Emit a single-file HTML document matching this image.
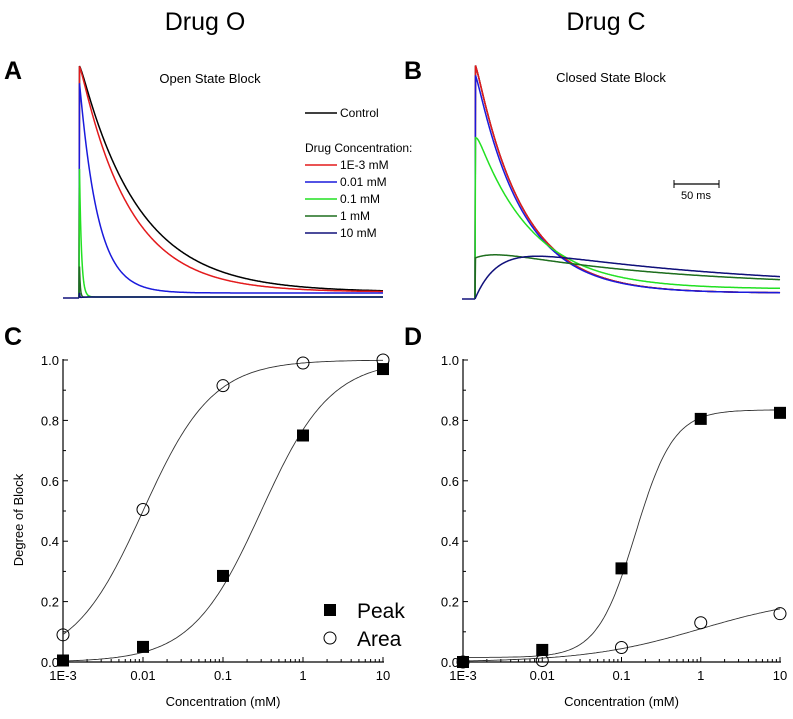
<!DOCTYPE html>
<html><head><meta charset="utf-8"><style>
body{margin:0;background:#fff}
svg{display:block;font-family:"Liberation Sans",Arial,sans-serif}
</style></head><body>
<svg id="fig" width="793" height="719" viewBox="0 0 793 719">
<text x="205" y="30" font-size="25" text-anchor="middle">Drug O</text>
<text x="606" y="30" font-size="25" text-anchor="middle">Drug C</text>
<text x="4" y="79" font-size="25" font-weight="bold">A</text>
<text x="404" y="79" font-size="25" font-weight="bold">B</text>
<text x="4" y="345" font-size="25" font-weight="bold">C</text>
<text x="404" y="345" font-size="25" font-weight="bold">D</text>
<text x="210" y="83" font-size="13" text-anchor="middle">Open State Block</text>
<text x="611" y="82" font-size="13" text-anchor="middle">Closed State Block</text>
<g id="legendA"></g>
<g>
<line x1="674" y1="184" x2="719" y2="184" stroke="#000" stroke-width="1.3"/>
<line x1="674" y1="180" x2="674" y2="188" stroke="#000"/>
<line x1="719" y1="180" x2="719" y2="188" stroke="#000"/>
<text x="696" y="199" font-size="11" text-anchor="middle">50 ms</text>
</g>
<g id="tracesA"></g>
<g id="tracesB"></g>
<g id="plotC"></g>
<g id="plotD"></g>
<text transform="translate(23,520) rotate(-90)" font-size="13" text-anchor="middle">Degree of Block</text>
<g>
<rect x="324" y="604" width="12" height="12" fill="#000"/>
<text x="357" y="618" font-size="21">Peak</text>
<circle cx="330" cy="638" r="6" fill="#fff" stroke="#000"/>
<text x="357" y="646" font-size="21">Area</text>
</g>
</svg>
<script>
// ---- dose-response data ----
const concentrations = [0.001, 0.01, 0.1, 1, 10];
const xTickLabels = ["1E-3", "0.01", "0.1", "1", "10"];
const yTickValues = [0, 0.2, 0.4, 0.6, 0.8, 1.0];
const yTickLabels = ["0.0", "0.2", "0.4", "0.6", "0.8", "1.0"];
const peakO = [0.005, 0.05, 0.285, 0.75, 0.97];
const areaO = [0.09, 0.505, 0.915, 0.99, 1.0];
const peakC = [0.0, 0.04, 0.31, 0.805, 0.825];
const areaC = [0.0, 0.005, 0.048, 0.13, 0.16];
// Hill fit params: [base, max, IC50, n]
const fitPeakO = [0, 1, 0.3, 1];
const fitAreaO = [0, 1, 0.01, 1];
const fitPeakC = [0.015, 0.82, 0.15, 1.8];
const fitAreaC = [0, 0.22, 1, 0.6];
// ---- trace params ----
const traceNames = ["Control", "1E-3 mM", "0.01 mM", "0.1 mM", "1 mM", "10 mM"];
const traceColors = ["#000000", "#e31a1c", "#1a1adc", "#22e022", "#1e6e1e", "#10107a"];
const openAmp = [233, 233, 220, 166, 58, 20];
const openTau = [65, 55, 20, 2.2, 0.9, 0.4];
const openTail = [6, 6, 5, 1, 1, 1];
const closedAmp = [235, 235, 225, 161, 0, 0];
const closedTau = [52, 52, 52, 62, 1, 1];
const closedSlowAmp = [0, 0, 0, 0, 40, 48];
const closedSlowTau = [1, 1, 1, 1, 200, 250];
const closedRiseAmp = [0, 0, 0, 0, 11, 58];
const closedRiseTau = [1, 1, 1, 1, 20, 25];
const closedTail = [6, 6, 6, 10, 12, 10];

const NS = "http://www.w3.org/2000/svg";
function mk(tag, attrs, parent) {
  const e = document.createElementNS(NS, tag);
  for (const k in attrs) e.setAttribute(k, attrs[k]);
  parent.appendChild(e);
  return e;
}

// legend A
const lg = document.getElementById("legendA");
const legYs = [113, 165, 182, 199, 216, 233];
traceNames.forEach((n, i) => {
  const l = mk("line", {x1: 305, x2: 337, y1: legYs[i], y2: legYs[i], stroke: traceColors[i], "stroke-width": 1.5}, lg);
  
  
  const t = mk("text", {x: 340, y: legYs[i] + 4, "font-size": 12}, lg);
  t.textContent = n;
  
  
});
const dc = mk("text", {x: 305, y: 152, "font-size": 12}, lg);
dc.textContent = "Drug Concentration:";



const msPx = 45 / 50;
function tracePath(g, i, xStart, xEnd, base, fn) {
  let d = `M${xStart},${base}`;
  for (let x = xStart; x <= xEnd; x += 0.5) {
    const t = (x - xStart) / msPx;
    d += ` L${x.toFixed(1)},${(base - fn(t)).toFixed(1)}`;
  }
  const p = mk("path", {d: d, fill: "none", stroke: traceColors[i], "stroke-width": 1.5}, g);
  
  
}
// Panel A
const gA = document.getElementById("tracesA");
mk("line", {x1: 63, x2: 79, y1: 298, y2: 298, stroke: "#10107a", "stroke-width": 1.5}, gA);
for (let i = 0; i < traceNames.length; i++) {
  tracePath(gA, i, 79, 383, 298, t => t <= 0 ? 0 :
    openAmp[i] * Math.exp(-t / openTau[i]) + openTail[i] * (1 - Math.exp(-t / 3)));
}
// Panel B
const gB = document.getElementById("tracesB");
mk("line", {x1: 462, x2: 475, y1: 299, y2: 299, stroke: "#10107a", "stroke-width": 1.5}, gB);
for (let i = 0; i < traceNames.length; i++) {
  tracePath(gB, i, 475, 780, 299, t => t <= 0 ? 0 :
    closedTail[i] * (closedRiseAmp[i] ? 1 : (1 - Math.exp(-t / 3))) +
    closedAmp[i] * Math.exp(-t / closedTau[i]) +
    closedSlowAmp[i] * Math.exp(-t / closedSlowTau[i]) -
    closedRiseAmp[i] * Math.exp(-t / closedRiseTau[i]));
}

// dose-response plots
function hill(p, c) { return p[0] + p[1] / (1 + Math.pow(p[2] / c, p[3])); }
function drawDR(g, x0, x1, y0, y1, peak, area, fp, fa) {
  const xs = c => x0 + (Math.log10(c) + 3) / 4 * (x1 - x0);
  const ys = v => y0 - v * (y0 - y1);
  mk("line", {x1: x0, x2: x0, y1: y0, y2: y1 - 1, stroke: "#000", "stroke-width": 1.2}, g);
  mk("line", {x1: x0, x2: x1 + 1, y1: y0, y2: y0, stroke: "#000", "stroke-width": 1.2}, g);
  yTickValues.forEach((v, i) => {
    mk("line", {x1: x0, x2: x0 + 5, y1: ys(v), y2: ys(v), stroke: "#000"}, g);
    if (i < yTickValues.length - 1) mk("line", {x1: x0, x2: x0 + 3, y1: ys(v + 0.1), y2: ys(v + 0.1), stroke: "#000"}, g);
    const t = mk("text", {x: x0 - 4, y: ys(v) + 5, "font-size": 13, "text-anchor": "end"}, g);
    t.textContent = yTickLabels[i];
    
    
  });
  concentrations.forEach((c, i) => {
    mk("line", {x1: xs(c), x2: xs(c), y1: y0, y2: y0 - 5, stroke: "#000"}, g);
    if (i < concentrations.length - 1) for (let k = 2; k < 10; k++)
      mk("line", {x1: xs(c * k), x2: xs(c * k), y1: y0, y2: y0 - 3, stroke: "#000"}, g);
    const t = mk("text", {x: xs(c), y: y0 + 18, "font-size": 13, "text-anchor": "middle"}, g);
    t.textContent = xTickLabels[i];
    
    
  });
  const xt = mk("text", {x: (x0 + x1) / 2, y: 706, "font-size": 13, "text-anchor": "middle"}, g);
  xt.textContent = "Concentration (mM)";
  
  
  [fp, fa].forEach(p => {
    let d = "";
    for (let e = -3; e <= 1.0001; e += 0.02) {
      const c = Math.pow(10, e);
      d += (d ? " L" : "M") + xs(c).toFixed(1) + "," + ys(hill(p, c)).toFixed(1);
    }
    const f = mk("path", {d: d, fill: "none", stroke: "#333", "stroke-width": 0.9}, g);
    
    
  });
  concentrations.forEach((c, i) => {
    const s = mk("rect", {x: xs(c) - 6, y: ys(peak[i]) - 6, width: 12, height: 12, fill: "#000"}, g);
    
    
    const o = mk("circle", {cx: xs(c), cy: ys(area[i]), r: 6, fill: "none", stroke: "#000"}, g);
    
    
  });
}
drawDR(document.getElementById("plotC"), 63, 383, 662, 360, peakO, areaO, fitPeakO, fitAreaO);
drawDR(document.getElementById("plotD"), 463, 780, 662, 360, peakC, areaC, fitPeakC, fitAreaC);
</script>
</body></html>
